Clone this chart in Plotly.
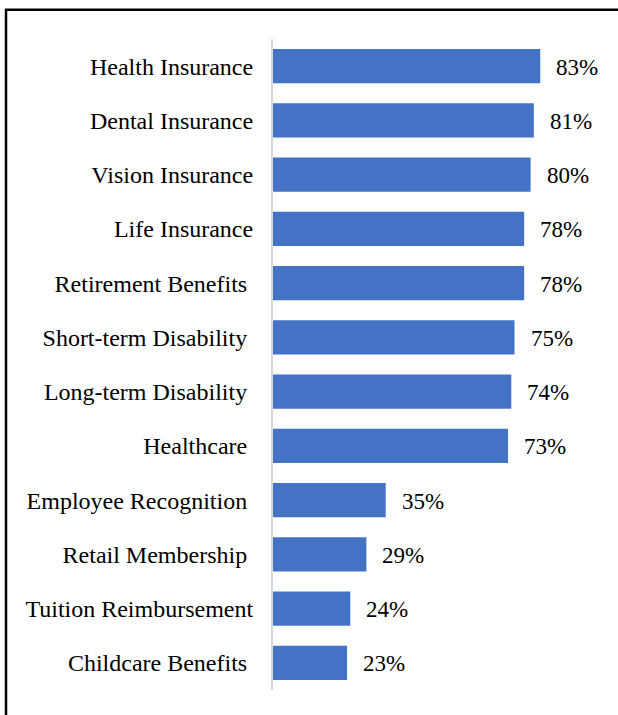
import plotly.graph_objects as go

# Benefit categories (top to bottom) and share of employers offering them (%)
benefits = [
    "Health Insurance",
    "Dental Insurance",
    "Vision Insurance",
    "Life Insurance",
    "Retirement Benefits ",
    "Short-term Disability ",
    "Long-term Disability ",
    "Healthcare ",
    "Employee Recognition ",
    "Retail Membership ",
    "Tuition Reimbursement",
    "Childcare Benefits ",
]
percent = [83, 81, 80, 78, 78, 75, 74, 73, 35, 29, 24, 23]

W, H = 618, 715
ML, MR, MT, MB = 273, 23, 39, 25
PW, PH = W - ML - MR, H - MT - MB

FONT = "Liberation Serif"

fig = go.Figure(
    go.Bar(
        x=percent,
        y=benefits,
        orientation="h",
        marker=dict(color="#4472C4", line=dict(width=0)),
        width=0.63,
        hoverinfo="skip",
    )
)

# value labels to the right of each bar
for b, v in zip(benefits, percent):
    fig.add_annotation(
        x=v, y=b, text=f"{v}%", showarrow=False,
        xanchor="left", yanchor="middle", xshift=14, yshift=-1,
        font=dict(family=FONT, size=23, color="#000000"),
    )

# outer frame
def px_x(p):
    return (p - ML) / PW

def px_y(p):
    return 1 - (p - MT) / PH

fig.add_shape(
    type="rect", xref="paper", yref="paper",
    x0=px_x(6), x1=px_x(W + 20), y0=px_y(H + 20), y1=px_y(9.7),
    line=dict(color="#000000", width=2.5), fillcolor="rgba(0,0,0,0)",
)

fig.update_layout(
    width=W, height=H,
    margin=dict(l=ML, r=MR, t=MT, b=MB, pad=0),
    paper_bgcolor="#FFFFFF", plot_bgcolor="#FFFFFF",
    showlegend=False,
    font=dict(family=FONT, size=24, color="#000000"),
    xaxis=dict(range=[0, 100], visible=False, fixedrange=True),
    yaxis=dict(
        autorange="reversed",
        showline=True, linecolor="#D9D9D9", linewidth=2,
        showgrid=False, zeroline=False, ticks="",
        ticklabelstandoff=13,
        tickfont=dict(family=FONT, size=24, color="#000000"),
        fixedrange=True,
    ),
    bargap=0.37,
)

fig.write_html("out.html")
